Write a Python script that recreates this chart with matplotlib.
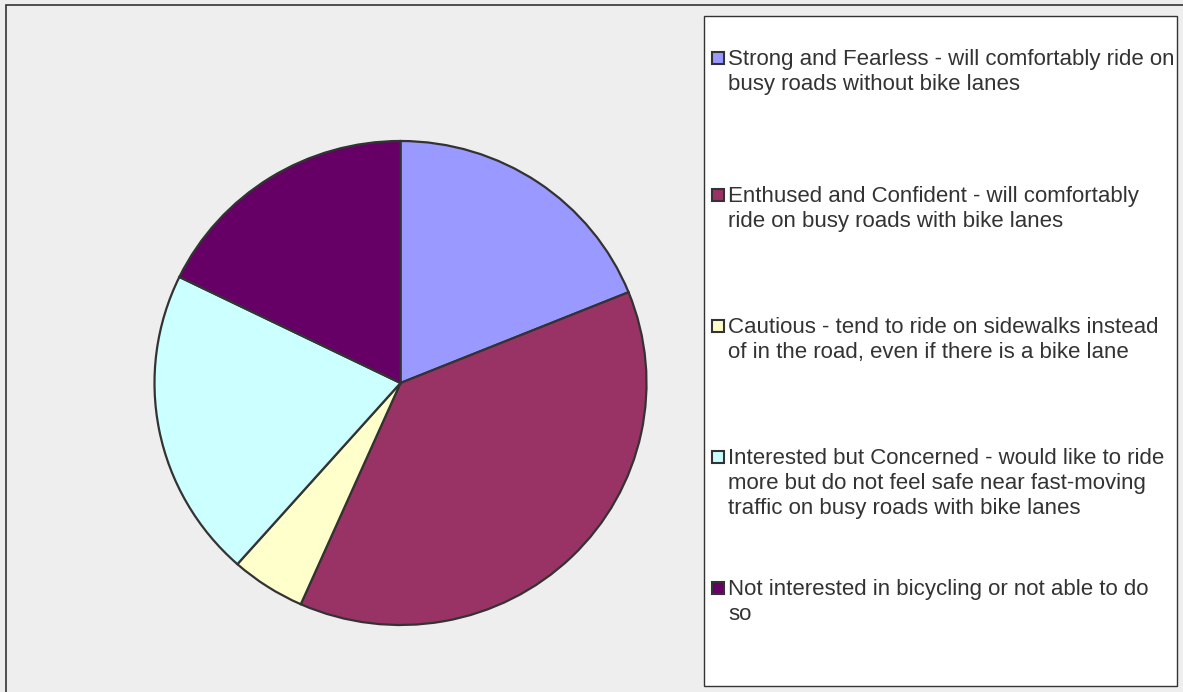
import matplotlib.pyplot as plt
from matplotlib.patches import Rectangle

plt.rcParams['font.family'] = ['Liberation Sans', 'DejaVu Sans']

# survey shares (percent)
labels = [
    'Strong and Fearless - will comfortably ride on\nbusy roads without bike lanes',
    'Enthused and Confident - will comfortably\nride on busy roads with bike lanes',
    'Cautious - tend to ride on sidewalks instead\nof in the road, even if there is a bike lane',
    'Interested but Concerned - would like to ride\nmore but do not feel safe near fast-moving\ntraffic on busy roads with bike lanes',
    'Not interested in bicycling or not able to do\nso',
]
shares = [18.9, 37.8, 4.9, 20.7, 17.8]
colors = ['#9999ff', '#993366', '#ffffcc', '#ccffff', '#660066']

W, H = 1183, 692
fig = plt.figure(figsize=(W / 100, H / 100), dpi=100, facecolor='#eeeeee')

# outer frame
fig.patches.append(Rectangle((6 / W, -0.1), 1.2, (692 - 5) / H + 0.1, transform=fig.transFigure,
                             fill=False, edgecolor='#333333', linewidth=1.2))

# pie (slightly wider than tall, like the original)
pad = 1.01
cx, cy, rx, ry = 400.5, 383, 246 * pad, 242 * pad
ax = fig.add_axes([(cx - rx) / W, (H - cy - ry) / H, 2 * rx / W, 2 * ry / H])
ax.pie(shares, colors=colors, startangle=90, counterclock=False,
       wedgeprops=dict(edgecolor='#333333', linewidth=1.6))
ax.set_xlim(-pad, pad)
ax.set_ylim(-pad, pad)
ax.set_aspect('auto')
ax.axis('off')

# legend box
lx0, ly0, lx1, ly1 = 704, 16, 1177, 686
fig.patches.append(Rectangle((lx0 / W, 1 - ly1 / H), (lx1 - lx0) / W, (ly1 - ly0) / H,
                             transform=fig.transFigure, facecolor='white',
                             edgecolor='#333333', linewidth=1.0))

first_line_y = [58, 195, 326, 457, 588]
for lab, col, y in zip(labels, colors, first_line_y):
    fig.patches.append(Rectangle((712 / W, 1 - (y + 6) / H), 12 / W, 12 / H,
                                 transform=fig.transFigure, facecolor=col,
                                 edgecolor='#333333', linewidth=1.5))
    fig.text(728 / W, 1 - (y - 9) / H, lab, ha='left', va='top',
             fontsize=16, color='#333333', linespacing=1.25)

fig.savefig('out.png', dpi=100, facecolor=fig.get_facecolor())
